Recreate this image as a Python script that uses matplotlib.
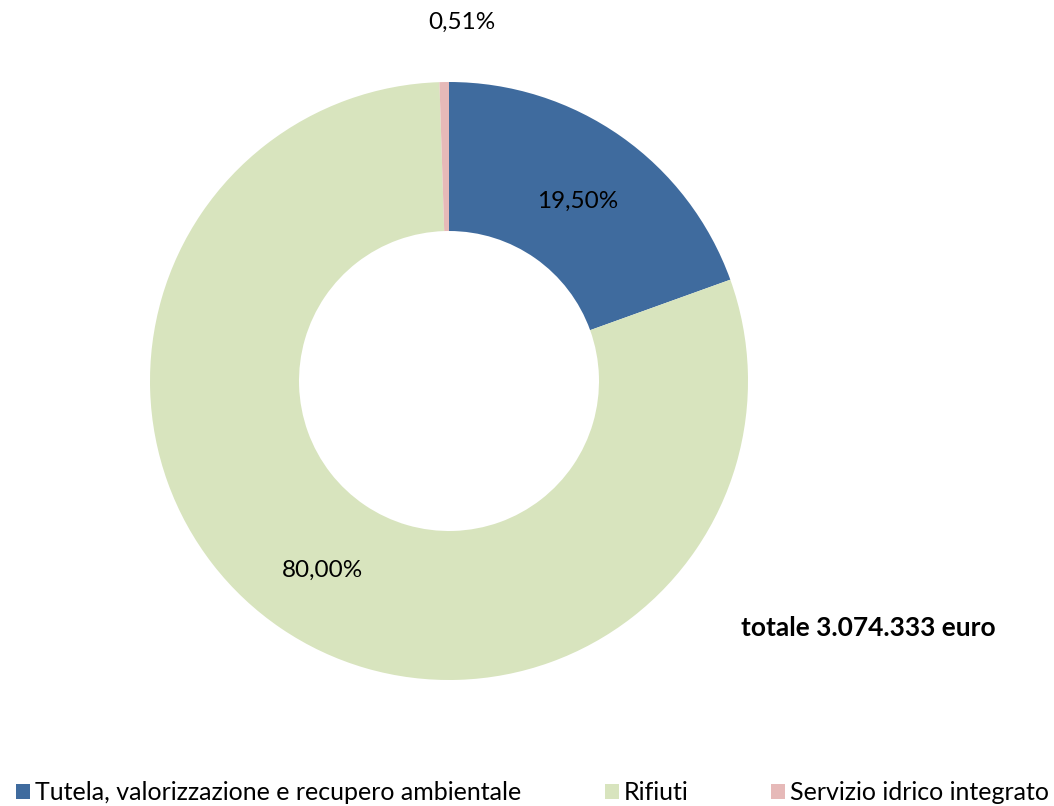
import matplotlib
matplotlib.use("Agg")
import matplotlib.pyplot as plt
import numpy as np
from matplotlib.patches import Patch

categories = ["Tutela, valorizzazione e recupero ambientale", "Rifiuti", "Servizio idrico integrato"]
values = [19.50, 80.00, 0.51]
labels = ["19,50%", "80,00%", "0,51%"]
colors = ["#3F6B9E", "#D8E4BE", "#E6B9B8"]
total_text = "totale 3.074.333 euro"

plt.rcParams['font.family'] = ['Lato', 'DejaVu Sans']

W, H = 1054, 806
fig = plt.figure(figsize=(W/100, H/100), dpi=100)
ax = fig.add_axes([0, 0, 1, 1])

cx, cy, R, w = 449, H - 381, 299, 149
wedges, _ = ax.pie(values, colors=colors, startangle=90, counterclock=False,
                   radius=R, center=(cx, cy), frame=True,
                   wedgeprops=dict(width=w, linewidth=0))
ax.set_xlim(0, W)
ax.set_ylim(0, H)
ax.set_aspect('equal')
ax.axis('off')

rl = R - w / 2
for i, wd in enumerate(wedges):
    ang = np.deg2rad((wd.theta1 + wd.theta2) / 2)
    if i == 2:
        x, y = cx + 13, cy + 359
    else:
        x, y = cx + rl * np.cos(ang), cy + rl * np.sin(ang) - 4
    ax.text(x, y, labels[i], ha='center', va='center', fontsize=17.5, color='#000000')

ax.text(868, H - 628, total_text, ha='center', va='center', fontsize=19, fontweight='bold')

legend_x = [16, 605, 771]
for c, name, lx in zip(colors, categories, legend_x):
    fig.legend([Patch(facecolor=c, edgecolor='none')], [name], loc='center left',
               bbox_to_anchor=(lx / W, 1 - 793 / H), frameon=False, fontsize=18,
               handlelength=0.55, handleheight=0.55, handletextpad=0.2,
               borderaxespad=0, borderpad=0)

fig.savefig("out.png", dpi=100)
